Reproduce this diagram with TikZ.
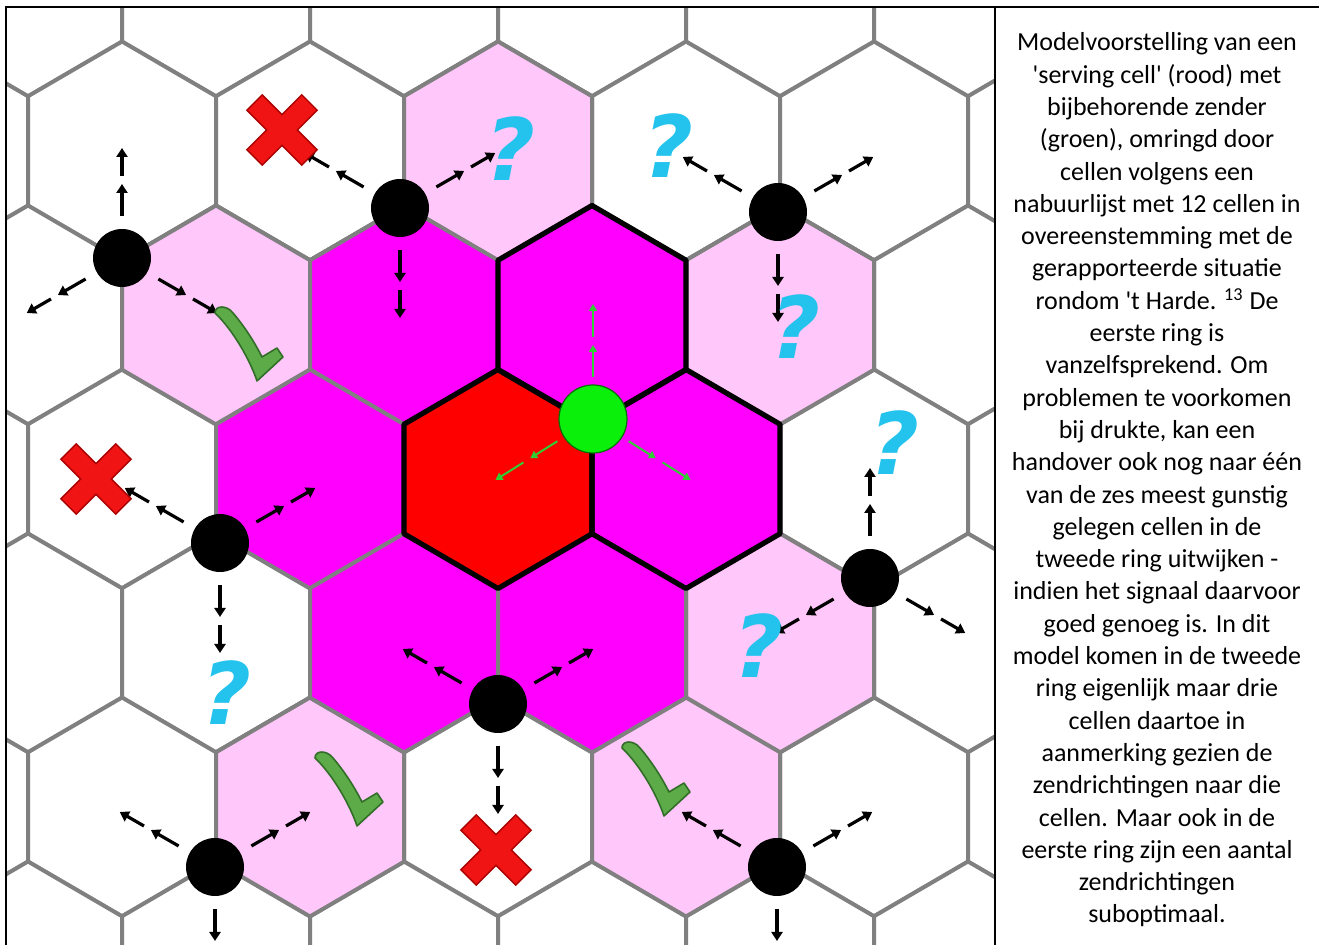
\documentclass[tikz,border=0pt]{standalone}
\usepackage{fontspec}
\setmainfont{Carlito}
\newfontfamily\qfont{DejaVu Sans}
\usetikzlibrary{arrows.meta,calc}
\definecolor{gridgrey}{RGB}{128,128,128}
\definecolor{lpink}{RGB}{255,199,250}
\definecolor{mag}{RGB}{255,0,255}
\definecolor{cellred}{RGB}{255,0,0}
\definecolor{txgreen}{RGB}{10,240,10}
\definecolor{beamgreen}{RGB}{50,205,50}
\definecolor{qblue}{RGB}{35,195,238}
\definecolor{ckgreen}{RGB}{92,170,72}
\definecolor{ckedge}{RGB}{50,110,40}
\definecolor{xred}{RGB}{240,20,20}
\definecolor{xedge}{RGB}{170,0,0}

\newcommand\hexcell[3]{\path[#3] (#1,#2-109.5) -- (#1+94,#2-54.75) -- (#1+94,#2+54.75) -- (#1,#2+109.5) -- (#1-94,#2+54.75) -- (#1-94,#2-54.75) -- cycle;}
\newcommand\bbeam[2]{\draw[bbeam] ($(#1)+(#2:42)$) -- ($(#1)+(#2:74)$); \draw[bbeam] ($(#1)+(#2:82)$) -- ($(#1)+(#2:110)$);}
\newcommand\gbeam[2]{\draw[gbeam] ($(#1)+(#2:42)$) -- ($(#1)+(#2:74)$); \draw[gbeam] ($(#1)+(#2:82)$) -- ($(#1)+(#2:115)$);}
\newcommand\crossmark[1]{\begin{scope}[shift={(#1)}]
  \foreach \a in {45,-45} \fill[xedge,rotate=\a] (-39.5,-11.5) rectangle (39.5,11.5);
  \foreach \a in {45,-45} \fill[xred,rotate=\a] (-38,-10) rectangle (38,10);
\end{scope}}
\newcommand\askmark[2]{\node[qtext] (#1) at (#2) {?};}
\newcommand\tickmark[2]{\path[fill=ckgreen,draw=ckedge,line width=0.8pt,line join=round,shift={(#1,#2)}]
  (0,8) .. controls (0,0) and (12,0) .. (18,8) .. controls (30,22) and (40,38) .. (47,52)
  -- (62,43) -- (68,52) -- (42,76) .. controls (35,55) and (18,25) .. (0,8) -- cycle;}

\begin{document}
\begin{tikzpicture}[x=0.5pt,y=-0.5pt,
  gridcell/.style={draw=gridgrey,line width=2pt,line join=round},
  keycell/.style={draw=black,line width=2.6pt,line join=round},
  txdot/.style={circle,fill=black,minimum size=29pt,inner sep=0pt},
  servtx/.style={circle,fill=txgreen,draw=black!55!green,line width=0.6pt,minimum size=34pt,inner sep=0pt},
  bbeam/.style={line width=1.6pt,draw=black,-{Triangle[length=4.5pt,width=5.5pt]}},
  gbeam/.style={line width=1pt,draw=beamgreen,-{Triangle[length=3.5pt,width=4pt]}},
  qtext/.style={font=\qfont\bfseries\itshape\fontsize{43}{43}\selectfont,text=qblue,inner sep=0pt},
  caption/.style={font=\fontsize{13}{16.15}\selectfont,align=center,inner sep=0pt}]
\useasboundingbox (0,0) rectangle (1319,945);
\fill[white] (0,0) rectangle (1319,945);

\begin{scope}
\clip (6,7) rectangle (995,945);
\foreach \y/\xo in {-13/404,151/498,315/404,479/498,643/404,807/498,971/404}
  \foreach \k in {-3,...,3} {\pgfmathsetmacro\x{\xo+188*\k}\hexcell{\x}{\y}{gridcell,fill=white}}
\foreach \x/\y in {498/151,216/315,780/315,780/643,310/807,686/807} {\hexcell{\x}{\y}{gridcell,fill=lpink}}
\foreach \x/\y in {404/315,592/315,310/479,686/479,404/643,592/643} {\hexcell{\x}{\y}{gridcell,fill=mag}}
\hexcell{498}{479}{gridcell,fill=cellred}
\foreach \x/\y in {498/479,592/315,686/479} {\hexcell{\x}{\y}{keycell}}

% serving transmitter
\node[servtx] (s0) at (593,419) {};
\gbeam{s0}{-90}\gbeam{s0}{148}\gbeam{s0}{32}

% neighbour transmitters
\node[txdot] (t1) at (122,258) {};
\node[txdot] (t2) at (400,208) {};
\node[txdot] (t3) at (778,212) {};
\node[txdot] (t4) at (220,543) {};
\node[txdot] (t5) at (870,578) {};
\node[txdot] (t6) at (498,704) {};
\node[txdot] (t7) at (215,867) {};
\node[txdot] (t8) at (777,867) {};
\bbeam{t1}{-90}\bbeam{t1}{150}\bbeam{t1}{30}
\bbeam{t5}{-90}\bbeam{t5}{150}\bbeam{t5}{30}
\foreach \t in {t2,t3,t4,t6,t7,t8} {\bbeam{\t}{-150}\bbeam{\t}{-30}\bbeam{\t}{90}}

% marks
\crossmark{282,130}
\crossmark{96,479}
\crossmark{496,850}
\askmark{q1}{510,149}
\askmark{q2}{668,146}
\askmark{q3}{795,327}
\askmark{q4}{894,443}
\askmark{q5}{758,646}
\askmark{q6}{226,693}
\tickmark{215}{305}
\tickmark{315}{750}
\tickmark{622}{740}
\end{scope}

% frame
\draw[line width=1.3pt] (6,945) -- (6,7) -- (1319,7);
\draw[line width=1.3pt] (995,7) -- (995,945);

\node[caption] (cap) at (1157,480) {Modelvoorstelling van een\\
\textquotesingle serving cell\textquotesingle{} (rood) met\\
bijbehorende zender\\
(groen), omringd door\\
cellen volgens een\\
nabuurlijst met 12 cellen in\\
overeenstemming met de\\
gerapporteerde situatie\\
rondom \textquotesingle t Harde. \textsuperscript{13} De\\
eerste ring is\\
vanzelfsprekend. Om\\
problemen te voorkomen\\
bij drukte, kan een\\
handover ook nog naar één\\
van de zes meest gunstig\\
gelegen cellen in de\\
tweede ring uitwijken -\\
indien het signaal daarvoor\\
goed genoeg is. In dit\\
model komen in de tweede\\
ring eigenlijk maar drie\\
cellen daartoe in\\
aanmerking gezien de\\
zendrichtingen naar die\\
cellen. Maar ook in de\\
eerste ring zijn een aantal\\
zendrichtingen\\
suboptimaal.};
\end{tikzpicture}
\end{document}
